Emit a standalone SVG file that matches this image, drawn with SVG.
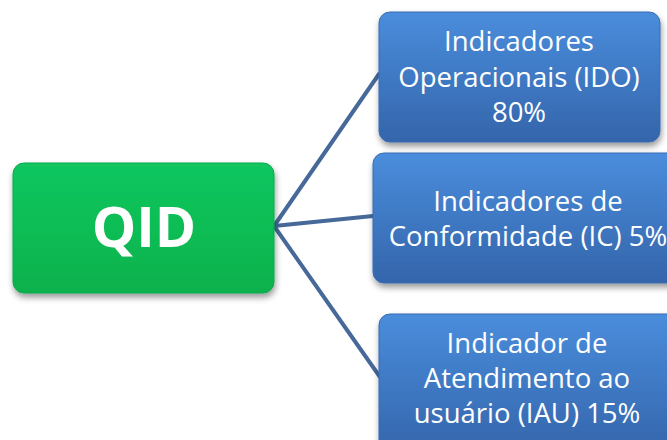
<svg xmlns="http://www.w3.org/2000/svg" width="667" height="440" viewBox="0 0 667 440">
<style>
.lbl{font-family:"Open Sans","Liberation Sans",sans-serif;fill:#fff;text-anchor:middle}
.b{font-size:27.5px}
.q{font-size:56px;font-weight:bold}
.conn{stroke:#46699a;stroke-width:4;fill:none;stroke-linecap:round}
</style>
<defs>
<linearGradient id="gb" x1="0" y1="0" x2="0" y2="1">
<stop offset="0" stop-color="#4a8ddc"/>
<stop offset="1" stop-color="#3465ab"/>
</linearGradient>
<linearGradient id="gg" x1="0" y1="0" x2="0" y2="1">
<stop offset="0" stop-color="#12c660"/>
<stop offset="0.5" stop-color="#08bd54"/>
<stop offset="1" stop-color="#07b04d"/>
</linearGradient>
<filter id="sh" x="-10%" y="-10%" width="120%" height="130%">
<feDropShadow dx="1" dy="4" stdDeviation="3" flood-color="#000" flood-opacity="0.4"/>
</filter>
</defs>
<g id="connectors">
<line class="conn" x1="274" y1="226" x2="379" y2="74"/>
<line class="conn" x1="274" y1="226" x2="373" y2="216"/>
<line class="conn" x1="274" y1="226" x2="380" y2="377"/>
</g>
<g id="qid">
<rect x="13" y="163" width="261" height="130" rx="11" fill="url(#gg)" stroke="#09a84a" stroke-width="1" filter="url(#sh)"/>
<text class="lbl q" x="144" y="247">QID</text>
</g>
<g id="ido">
<rect x="379" y="12" width="281" height="130" rx="11" fill="url(#gb)" stroke="#3a6bb0" stroke-width="1" filter="url(#sh)"/>
<text class="lbl b" x="519" y="51">Indicadores</text>
<text class="lbl b" x="519" y="87">Operacionais (IDO)</text>
<text class="lbl b" x="519" y="122">80%</text>
</g>
<g id="ic">
<rect x="373" y="153" width="320" height="130" rx="11" fill="url(#gb)" stroke="#3a6bb0" stroke-width="1" filter="url(#sh)"/>
<text class="lbl b" x="528" y="211">Indicadores de</text>
<text class="lbl b" x="528" y="246">Conformidade (IC) 5%</text>
</g>
<g id="iau">
<rect x="379" y="314" width="300" height="140" rx="11" fill="url(#gb)" stroke="#3a6bb0" stroke-width="1" filter="url(#sh)"/>
<text class="lbl b" x="527" y="353">Indicador de</text>
<text class="lbl b" x="527" y="388">Atendimento ao</text>
<text class="lbl b" x="527" y="423">usuário (IAU) 15%</text>
</g>
</svg>
